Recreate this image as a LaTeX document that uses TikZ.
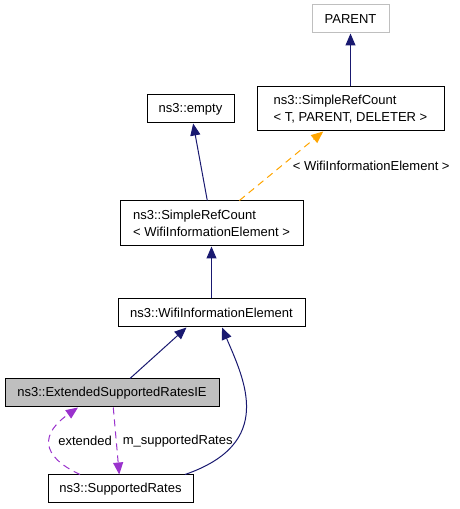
\documentclass[tikz,border=0pt]{standalone}
\usepackage{xcolor}
\usepackage{fontspec}
\setsansfont{Liberation Sans}
\usepackage{tikz}
\usetikzlibrary{arrows.meta, positioning}

\definecolor{edgeblue}{HTML}{191970}
\definecolor{tmplorange}{HTML}{FFA500}
\definecolor{usepurple}{HTML}{9A32CD}
\definecolor{boxgray}{HTML}{BFBFBF}

\begin{document}
\begin{tikzpicture}[-,auto,x=1pt,y=1pt,
                    thick,class node/.style={rectangle,draw,line width=1pt,inner sep=0pt,
                      minimum height=28pt,align=left,font=\sffamily\fontsize{13}{17}\selectfont},
                    label text/.style={text=black,font=\sffamily\fontsize{13}{17}\selectfont,inner sep=0pt},
                    inherit edge/.style={color=edgeblue,line width=1pt,-{Triangle[length=12pt,width=10pt]}},
                    template edge/.style={color=tmplorange,line width=1pt,dash pattern=on 7pt off 5pt,
                      -{Triangle[length=12pt,width=10pt]}},
                    usage edge/.style={color=usepurple,line width=1pt,dash pattern=on 7pt off 5pt,
                      -{Triangle[length=12pt,width=10pt]}}]

  \useasboundingbox (0,0) rectangle (460,509);

  \node[class node,draw=boxgray,minimum width=77pt] (parent) at (350.5,490) {PARENT};
  \node[class node,minimum width=187pt,minimum height=44pt] (srct) at (350.5,400)
    {ns3::SimpleRefCount\\< T, PARENT, DELETER >};
  \node[class node,minimum width=87pt] (empty) at (190.5,400) {ns3::empty};
  \node[class node,minimum width=183pt,minimum height=45pt] (srcw) at (211.5,285.5)
    {ns3::SimpleRefCount\\< WifiInformationElement >};
  \node[class node,minimum width=187pt] (wie) at (211.5,196) {ns3::WifiInformationElement};
  \node[class node,fill=boxgray,minimum width=214pt] (esr) at (112,116) {ns3::ExtendedSupportedRatesIE};
  \node[class node,minimum width=145pt] (sr) at (120.5,20) {ns3::SupportedRates};

  \path[inherit edge]
    (srct) edge (parent)
    (srcw) edge (empty)
    (wie) edge (srcw)
    ([xshift=18pt]esr.north) edge ([xshift=-25pt]wie.south);

  \path[template edge]
    (srcw) edge node[label text,anchor=west,pos=0.5,xshift=11pt] {< WifiInformationElement >} (srct);

  \draw[inherit edge] ([xshift=64.5pt]sr.north) .. controls +(19:96) and +(-67:57) .. ([xshift=10.5pt]wie.south);

  \path[usage edge]
    (esr) edge node[label text,anchor=west,pos=0.5,xshift=6pt] {m\_supportedRates} (sr);

  \draw[usage edge] ([xshift=-40.5pt]sr.north) .. controls +(155:45) and +(215:45) .. ([xshift=-34pt]esr.south)
    node[label text,pos=0.5,anchor=west,xshift=8pt,yshift=3pt] {extended};

\end{tikzpicture}
\end{document}
